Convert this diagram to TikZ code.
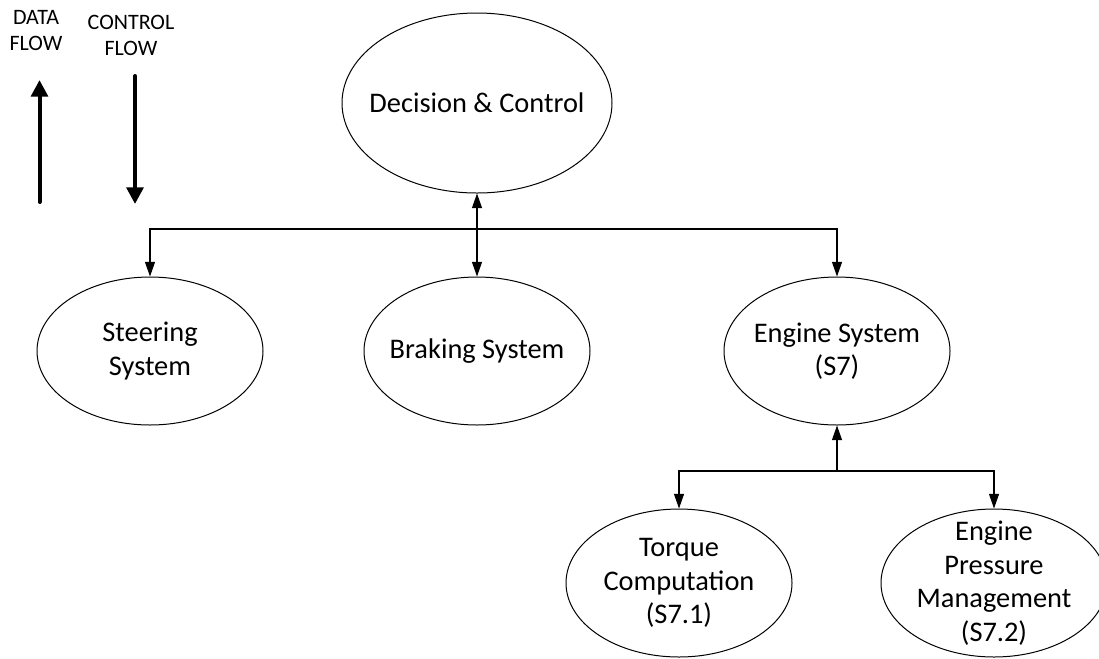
\documentclass[tikz,border=0pt]{standalone}
\usepackage{fontspec}
\setmainfont{Carlito}
\usetikzlibrary{arrows.meta,shapes.geometric}

\tikzset{
  blob/.style={draw=black, line width=0.75pt, ellipse, inner sep=0pt,
    minimum width=169.5pt, minimum height=111pt},
  bigblob/.style={blob, minimum width=202.5pt, minimum height=135pt},
  txt/.style={align=center, inner sep=0pt, font=\fontsize{21.3}{25.2}\selectfont},
  legendtxt/.style={align=center, inner sep=0pt, font=\fontsize{16.5}{19.5}\selectfont},
  conn/.style={line width=0.9pt, -{Triangle[length=11pt,width=7.5pt]}},
  biconn/.style={line width=0.9pt, {Triangle[length=11pt,width=7.5pt]}-{Triangle[length=11pt,width=7.5pt]}},
  flow/.style={line width=3pt, line cap=round, -{Triangle[length=12.5pt,width=12.5pt]}}
}

\begin{document}
\begin{tikzpicture}[x=0.75pt, y=-0.75pt]
  \useasboundingbox (0,0) rectangle (1099,658);
  \clip (0,0) rectangle (1099,658);

  % legend
  \node[legendtxt] (dataflow) at (36,31) {DATA\\FLOW};
  \node[legendtxt] (ctrlflow) at (131,35) {CONTROL\\FLOW};
  \coordinate (dfrom) at (39.5,202);
  \coordinate (dto) at (39.5,80);
  \coordinate (cfrom) at (135,76);
  \coordinate (cto) at (135,204);
  \draw[flow] (dfrom) -- (dto);
  \draw[flow] (cfrom) -- (cto);

  % ellipses
  \node[bigblob] (dec) at (477,103) {};
  \node[blob] (steer) at (150,351) {};
  \node[blob] (brake) at (477,351) {};
  \node[blob] (eng) at (837,351) {};
  \node[blob] (torq) at (679,583) {};
  \node[blob] (press) at (994,583) {};

  % labels
  \node[txt] (decT) at (dec.center) {Decision \& Control};
  \node[txt] (steerT) at (steer.center) {Steering\\System};
  \node[txt] (brakeT) at (brake.center) {Braking System};
  \node[txt] (engT) at (eng.center) {Engine System\\(S7)};
  \node[txt] (torqT) at (torq.center) {Torque\\Computation\\(S7.1)};
  \node[txt] (pressT) at (press.center) {Engine\\Pressure\\Management\\(S7.2)};

  % upper connectors
  \coordinate (bar) at (477,229);
  \draw[biconn] (dec.south) -- (brake.north);
  \draw[conn] (bar) -| (steer.north);
  \draw[conn] (bar) -| (eng.north);

  % lower connectors
  \coordinate (low) at (837,471);
  \draw[conn] (low) -- (eng.south);
  \draw[conn] (low) -| (torq.north);
  \draw[conn] (low) -| (press.north);
\end{tikzpicture}
\end{document}
